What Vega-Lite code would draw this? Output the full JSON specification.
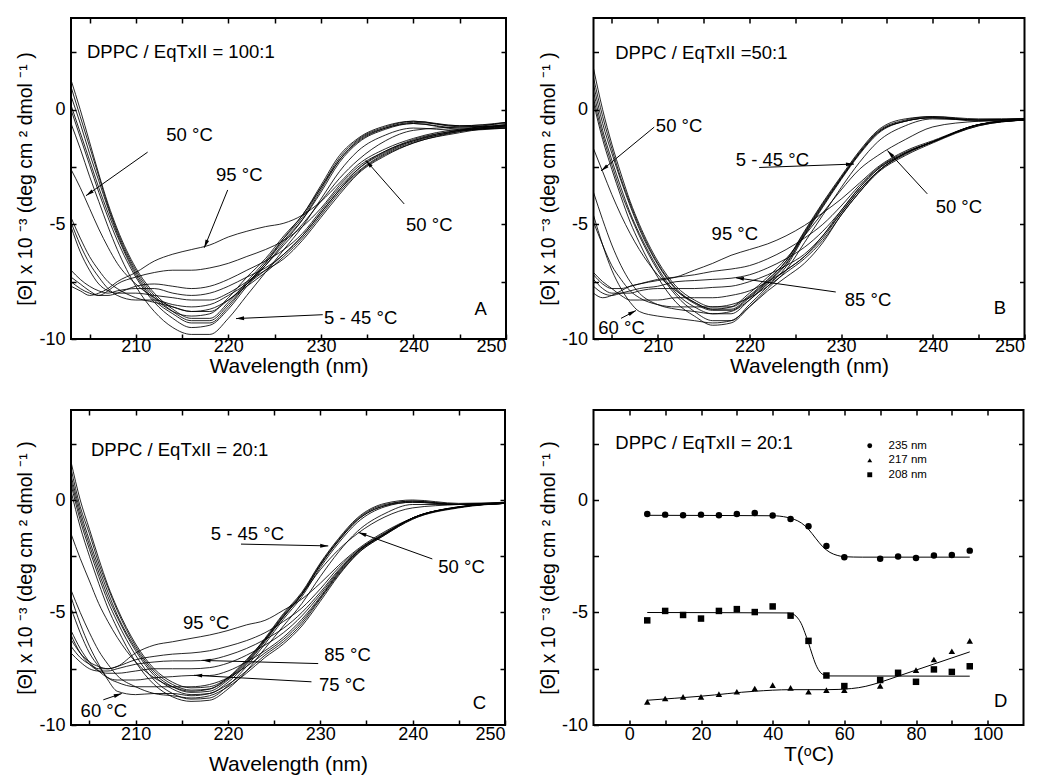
{
"$schema": "https://vega.github.io/schema/vega-lite/v6.json",
"background": "white",
"padding": {"left": 14, "top": 16, "right": 0, "bottom": 0},
"config": {
  "font": "Liberation Sans",
  "view": {"stroke": "black", "strokeWidth": 2},
  "axis": {"domain": false, "grid": false, "ticks": true, "tickColor": "black", "tickSize": -5, "tickWidth": 1.5,
           "labelFont": "Liberation Sans", "labelFontSize": 18, "labelColor": "black", "labelPadding": 3,
           "titleFont": "Liberation Sans", "titleFontWeight": "normal", "titleColor": "black"},
  "axisX": {"titleFontSize": 21, "titlePadding": 0},
  "axisY": {"titleFontSize": 19.5, "titlePadding": 3, "labelPadding": 11},
  "text": {"font": "Liberation Sans", "color": "black"}
},
"datasets": {
"A": [
{"t":5,"w":203,"v":1.3},{"t":5,"w":204,"v":0.0},{"t":5,"w":205,"v":-1.4},{"t":5,"w":206,"v":-2.8},{"t":5,"w":207,"v":-4.1},{"t":5,"w":208,"v":-5.2},{"t":5,"w":210,"v":-6.9},{"t":5,"w":212,"v":-8.0},{"t":5,"w":214,"v":-8.7},{"t":5,"w":216,"v":-9.1},{"t":5,"w":218,"v":-9.1},{"t":5,"w":220,"v":-8.4},{"t":5,"w":222,"v":-7.5},{"t":5,"w":224,"v":-6.6},{"t":5,"w":226,"v":-5.6},{"t":5,"w":228,"v":-4.7},{"t":5,"w":230,"v":-3.4},{"t":5,"w":232,"v":-2.1},{"t":5,"w":234,"v":-1.3},{"t":5,"w":237,"v":-0.75},{"t":5,"w":240,"v":-0.5},{"t":5,"w":245,"v":-0.7},{"t":5,"w":250,"v":-0.55},
{"t":15,"w":203,"v":1.0},{"t":15,"w":204,"v":-0.3},{"t":15,"w":205,"v":-1.6},{"t":15,"w":206,"v":-2.9},{"t":15,"w":207,"v":-4.2},{"t":15,"w":208,"v":-5.3},{"t":15,"w":210,"v":-7.0},{"t":15,"w":212,"v":-8.1},{"t":15,"w":214,"v":-8.8},{"t":15,"w":216,"v":-9.2},{"t":15,"w":218,"v":-9.2},{"t":15,"w":220,"v":-8.5},{"t":15,"w":222,"v":-7.6},{"t":15,"w":224,"v":-6.7},{"t":15,"w":226,"v":-5.6},{"t":15,"w":228,"v":-4.6},{"t":15,"w":230,"v":-3.4},{"t":15,"w":232,"v":-2.2},{"t":15,"w":234,"v":-1.35},{"t":15,"w":237,"v":-0.8},{"t":15,"w":240,"v":-0.6},{"t":15,"w":245,"v":-0.8},{"t":15,"w":250,"v":-0.65},
{"t":25,"w":203,"v":0.6},{"t":25,"w":204,"v":-0.6},{"t":25,"w":205,"v":-1.9},{"t":25,"w":206,"v":-3.1},{"t":25,"w":207,"v":-4.3},{"t":25,"w":208,"v":-5.4},{"t":25,"w":210,"v":-7.1},{"t":25,"w":212,"v":-8.2},{"t":25,"w":214,"v":-8.8},{"t":25,"w":216,"v":-9.0},{"t":25,"w":218,"v":-8.9},{"t":25,"w":220,"v":-8.2},{"t":25,"w":222,"v":-7.3},{"t":25,"w":224,"v":-6.5},{"t":25,"w":226,"v":-5.5},{"t":25,"w":228,"v":-4.6},{"t":25,"w":230,"v":-3.3},{"t":25,"w":232,"v":-2.0},{"t":25,"w":234,"v":-1.25},{"t":25,"w":237,"v":-0.7},{"t":25,"w":240,"v":-0.5},{"t":25,"w":245,"v":-0.75},{"t":25,"w":250,"v":-0.7},
{"t":35,"w":203,"v":0.2},{"t":35,"w":204,"v":-1.0},{"t":35,"w":205,"v":-2.2},{"t":35,"w":206,"v":-3.4},{"t":35,"w":207,"v":-4.5},{"t":35,"w":208,"v":-5.5},{"t":35,"w":210,"v":-7.2},{"t":35,"w":212,"v":-8.3},{"t":35,"w":214,"v":-8.9},{"t":35,"w":216,"v":-9.3},{"t":35,"w":218,"v":-9.3},{"t":35,"w":220,"v":-8.6},{"t":35,"w":222,"v":-7.6},{"t":35,"w":224,"v":-6.7},{"t":35,"w":226,"v":-5.7},{"t":35,"w":228,"v":-4.8},{"t":35,"w":230,"v":-3.6},{"t":35,"w":232,"v":-2.3},{"t":35,"w":234,"v":-1.45},{"t":35,"w":237,"v":-0.85},{"t":35,"w":240,"v":-0.6},{"t":35,"w":245,"v":-0.85},{"t":35,"w":250,"v":-0.8},
{"t":40,"w":203,"v":0.0},{"t":40,"w":204,"v":-1.2},{"t":40,"w":205,"v":-2.4},{"t":40,"w":206,"v":-3.6},{"t":40,"w":207,"v":-4.7},{"t":40,"w":208,"v":-5.7},{"t":40,"w":210,"v":-7.3},{"t":40,"w":212,"v":-8.4},{"t":40,"w":214,"v":-9.1},{"t":40,"w":216,"v":-9.5},{"t":40,"w":218,"v":-9.4},{"t":40,"w":220,"v":-8.7},{"t":40,"w":222,"v":-7.7},{"t":40,"w":224,"v":-6.8},{"t":40,"w":226,"v":-5.8},{"t":40,"w":228,"v":-4.8},{"t":40,"w":230,"v":-3.5},{"t":40,"w":232,"v":-2.2},{"t":40,"w":234,"v":-1.4},{"t":40,"w":237,"v":-0.8},{"t":40,"w":240,"v":-0.55},{"t":40,"w":245,"v":-0.7},{"t":40,"w":250,"v":-0.6},
{"t":45,"w":203,"v":-0.6},{"t":45,"w":204,"v":-1.7},{"t":45,"w":205,"v":-2.9},{"t":45,"w":206,"v":-4.0},{"t":45,"w":207,"v":-5.1},{"t":45,"w":208,"v":-6.1},{"t":45,"w":210,"v":-7.7},{"t":45,"w":212,"v":-8.8},{"t":45,"w":214,"v":-9.5},{"t":45,"w":216,"v":-9.8},{"t":45,"w":218,"v":-9.8},{"t":45,"w":220,"v":-9.1},{"t":45,"w":222,"v":-8.1},{"t":45,"w":224,"v":-7.1},{"t":45,"w":226,"v":-6.1},{"t":45,"w":228,"v":-5.1},{"t":45,"w":230,"v":-3.9},{"t":45,"w":232,"v":-2.7},{"t":45,"w":234,"v":-1.8},{"t":45,"w":237,"v":-1.1},{"t":45,"w":240,"v":-0.8},{"t":45,"w":245,"v":-0.9},{"t":45,"w":250,"v":-0.8},
{"t":50,"w":203,"v":-2.6},{"t":50,"w":204,"v":-3.4},{"t":50,"w":205,"v":-4.3},{"t":50,"w":206,"v":-5.2},{"t":50,"w":207,"v":-6.0},{"t":50,"w":208,"v":-6.7},{"t":50,"w":210,"v":-7.6},{"t":50,"w":212,"v":-8.2},{"t":50,"w":214,"v":-8.6},{"t":50,"w":216,"v":-8.8},{"t":50,"w":218,"v":-8.8},{"t":50,"w":220,"v":-8.3},{"t":50,"w":222,"v":-7.6},{"t":50,"w":224,"v":-6.8},{"t":50,"w":226,"v":-5.9},{"t":50,"w":228,"v":-5.0},{"t":50,"w":230,"v":-4.0},{"t":50,"w":232,"v":-3.0},{"t":50,"w":234,"v":-2.2},{"t":50,"w":237,"v":-1.35},{"t":50,"w":240,"v":-0.9},{"t":50,"w":245,"v":-0.75},{"t":50,"w":250,"v":-0.7},
{"t":55,"w":203,"v":-4.7},{"t":55,"w":204,"v":-5.6},{"t":55,"w":205,"v":-6.4},{"t":55,"w":206,"v":-7.0},{"t":55,"w":207,"v":-7.5},{"t":55,"w":208,"v":-7.8},{"t":55,"w":210,"v":-8.2},{"t":55,"w":212,"v":-8.4},{"t":55,"w":214,"v":-8.6},{"t":55,"w":216,"v":-8.8},{"t":55,"w":218,"v":-8.7},{"t":55,"w":220,"v":-8.3},{"t":55,"w":222,"v":-7.7},{"t":55,"w":224,"v":-7.1},{"t":55,"w":226,"v":-6.4},{"t":55,"w":228,"v":-5.6},{"t":55,"w":230,"v":-4.6},{"t":55,"w":232,"v":-3.6},{"t":55,"w":234,"v":-2.75},{"t":55,"w":237,"v":-1.95},{"t":55,"w":240,"v":-1.45},{"t":55,"w":245,"v":-0.95},{"t":55,"w":250,"v":-0.65},
{"t":60,"w":203,"v":-4.9},{"t":60,"w":204,"v":-5.9},{"t":60,"w":205,"v":-6.7},{"t":60,"w":206,"v":-7.3},{"t":60,"w":207,"v":-7.8},{"t":60,"w":208,"v":-8.1},{"t":60,"w":210,"v":-8.3},{"t":60,"w":212,"v":-8.3},{"t":60,"w":214,"v":-8.5},{"t":60,"w":216,"v":-8.6},{"t":60,"w":218,"v":-8.5},{"t":60,"w":220,"v":-8.1},{"t":60,"w":222,"v":-7.6},{"t":60,"w":224,"v":-7.0},{"t":60,"w":226,"v":-6.3},{"t":60,"w":228,"v":-5.5},{"t":60,"w":230,"v":-4.5},{"t":60,"w":232,"v":-3.5},{"t":60,"w":234,"v":-2.7},{"t":60,"w":237,"v":-1.9},{"t":60,"w":240,"v":-1.4},{"t":60,"w":245,"v":-0.9},{"t":60,"w":250,"v":-0.55},
{"t":65,"w":203,"v":-5.1},{"t":65,"w":204,"v":-6.2},{"t":65,"w":205,"v":-7.0},{"t":65,"w":206,"v":-7.6},{"t":65,"w":207,"v":-7.9},{"t":65,"w":208,"v":-8.0},{"t":65,"w":210,"v":-8.0},{"t":65,"w":212,"v":-8.1},{"t":65,"w":214,"v":-8.2},{"t":65,"w":216,"v":-8.3},{"t":65,"w":218,"v":-8.3},{"t":65,"w":220,"v":-8.0},{"t":65,"w":222,"v":-7.5},{"t":65,"w":224,"v":-7.0},{"t":65,"w":226,"v":-6.5},{"t":65,"w":228,"v":-5.7},{"t":65,"w":230,"v":-4.7},{"t":65,"w":232,"v":-3.7},{"t":65,"w":234,"v":-2.8},{"t":65,"w":237,"v":-2.0},{"t":65,"w":240,"v":-1.45},{"t":65,"w":245,"v":-1.0},{"t":65,"w":250,"v":-0.7},
{"t":70,"w":203,"v":-7.0},{"t":70,"w":204,"v":-7.4},{"t":70,"w":205,"v":-7.7},{"t":70,"w":206,"v":-7.9},{"t":70,"w":207,"v":-8.0},{"t":70,"w":208,"v":-7.9},{"t":70,"w":210,"v":-7.8},{"t":70,"w":212,"v":-7.8},{"t":70,"w":214,"v":-8.0},{"t":70,"w":216,"v":-8.1},{"t":70,"w":218,"v":-8.0},{"t":70,"w":220,"v":-7.7},{"t":70,"w":222,"v":-7.3},{"t":70,"w":224,"v":-6.9},{"t":70,"w":226,"v":-6.3},{"t":70,"w":228,"v":-5.5},{"t":70,"w":230,"v":-4.5},{"t":70,"w":232,"v":-3.5},{"t":70,"w":234,"v":-2.6},{"t":70,"w":237,"v":-1.8},{"t":70,"w":240,"v":-1.35},{"t":70,"w":245,"v":-0.95},{"t":70,"w":250,"v":-0.75},
{"t":80,"w":203,"v":-7.3},{"t":80,"w":204,"v":-7.6},{"t":80,"w":205,"v":-7.9},{"t":80,"w":206,"v":-8.1},{"t":80,"w":207,"v":-8.1},{"t":80,"w":208,"v":-8.0},{"t":80,"w":210,"v":-7.7},{"t":80,"w":212,"v":-7.6},{"t":80,"w":214,"v":-7.7},{"t":80,"w":216,"v":-7.8},{"t":80,"w":218,"v":-7.7},{"t":80,"w":220,"v":-7.4},{"t":80,"w":222,"v":-7.0},{"t":80,"w":224,"v":-6.6},{"t":80,"w":226,"v":-6.1},{"t":80,"w":228,"v":-5.4},{"t":80,"w":230,"v":-4.4},{"t":80,"w":232,"v":-3.4},{"t":80,"w":234,"v":-2.6},{"t":80,"w":237,"v":-1.85},{"t":80,"w":240,"v":-1.35},{"t":80,"w":245,"v":-0.9},{"t":80,"w":250,"v":-0.8},
{"t":90,"w":203,"v":-7.5},{"t":90,"w":204,"v":-7.8},{"t":90,"w":205,"v":-8.0},{"t":90,"w":206,"v":-8.1},{"t":90,"w":207,"v":-7.9},{"t":90,"w":208,"v":-7.6},{"t":90,"w":210,"v":-7.3},{"t":90,"w":212,"v":-7.1},{"t":90,"w":214,"v":-7.0},{"t":90,"w":216,"v":-7.0},{"t":90,"w":218,"v":-6.9},{"t":90,"w":220,"v":-6.7},{"t":90,"w":222,"v":-6.4},{"t":90,"w":224,"v":-6.1},{"t":90,"w":226,"v":-5.7},{"t":90,"w":228,"v":-5.1},{"t":90,"w":230,"v":-4.3},{"t":90,"w":232,"v":-3.3},{"t":90,"w":234,"v":-2.5},{"t":90,"w":237,"v":-1.8},{"t":90,"w":240,"v":-1.3},{"t":90,"w":245,"v":-0.9},{"t":90,"w":250,"v":-0.7},
{"t":95,"w":203,"v":-7.7},{"t":95,"w":204,"v":-7.9},{"t":95,"w":205,"v":-8.1},{"t":95,"w":206,"v":-8.0},{"t":95,"w":207,"v":-7.8},{"t":95,"w":208,"v":-7.5},{"t":95,"w":210,"v":-7.1},{"t":95,"w":212,"v":-6.6},{"t":95,"w":214,"v":-6.3},{"t":95,"w":216,"v":-6.1},{"t":95,"w":218,"v":-5.9},{"t":95,"w":220,"v":-5.55},{"t":95,"w":222,"v":-5.3},{"t":95,"w":224,"v":-5.1},{"t":95,"w":226,"v":-4.95},{"t":95,"w":228,"v":-4.6},{"t":95,"w":230,"v":-4.0},{"t":95,"w":232,"v":-3.2},{"t":95,"w":234,"v":-2.4},{"t":95,"w":237,"v":-1.7},{"t":95,"w":240,"v":-1.25},{"t":95,"w":245,"v":-0.85},{"t":95,"w":250,"v":-0.75}
],
"B": [
{"t":5,"w":203,"v":1.8},{"t":5,"w":204,"v":0.0},{"t":5,"w":205,"v":-1.5},{"t":5,"w":206,"v":-2.8},{"t":5,"w":207,"v":-4.0},{"t":5,"w":208,"v":-5.0},{"t":5,"w":210,"v":-6.6},{"t":5,"w":212,"v":-7.7},{"t":5,"w":214,"v":-8.3},{"t":5,"w":216,"v":-8.6},{"t":5,"w":218,"v":-8.6},{"t":5,"w":220,"v":-8.1},{"t":5,"w":222,"v":-7.4},{"t":5,"w":224,"v":-6.6},{"t":5,"w":226,"v":-5.3},{"t":5,"w":228,"v":-4.05},{"t":5,"w":230,"v":-2.9},{"t":5,"w":232,"v":-1.8},{"t":5,"w":234,"v":-0.9},{"t":5,"w":237,"v":-0.4},{"t":5,"w":240,"v":-0.3},{"t":5,"w":245,"v":-0.4},{"t":5,"w":250,"v":-0.38},
{"t":15,"w":203,"v":1.4},{"t":15,"w":204,"v":-0.3},{"t":15,"w":205,"v":-1.7},{"t":15,"w":206,"v":-3.0},{"t":15,"w":207,"v":-4.1},{"t":15,"w":208,"v":-5.1},{"t":15,"w":210,"v":-6.7},{"t":15,"w":212,"v":-7.8},{"t":15,"w":214,"v":-8.4},{"t":15,"w":216,"v":-8.7},{"t":15,"w":218,"v":-8.7},{"t":15,"w":220,"v":-8.15},{"t":15,"w":222,"v":-7.45},{"t":15,"w":224,"v":-6.6},{"t":15,"w":226,"v":-5.35},{"t":15,"w":228,"v":-4.1},{"t":15,"w":230,"v":-2.95},{"t":15,"w":232,"v":-1.85},{"t":15,"w":234,"v":-0.95},{"t":15,"w":237,"v":-0.45},{"t":15,"w":240,"v":-0.3},{"t":15,"w":245,"v":-0.45},{"t":15,"w":250,"v":-0.42},
{"t":25,"w":203,"v":1.1},{"t":25,"w":204,"v":-0.6},{"t":25,"w":205,"v":-1.9},{"t":25,"w":206,"v":-3.1},{"t":25,"w":207,"v":-4.2},{"t":25,"w":208,"v":-5.2},{"t":25,"w":210,"v":-6.75},{"t":25,"w":212,"v":-7.85},{"t":25,"w":214,"v":-8.45},{"t":25,"w":216,"v":-8.75},{"t":25,"w":218,"v":-8.75},{"t":25,"w":220,"v":-8.2},{"t":25,"w":222,"v":-7.5},{"t":25,"w":224,"v":-6.7},{"t":25,"w":226,"v":-5.4},{"t":25,"w":228,"v":-4.15},{"t":25,"w":230,"v":-3.0},{"t":25,"w":232,"v":-1.9},{"t":25,"w":234,"v":-1.0},{"t":25,"w":237,"v":-0.5},{"t":25,"w":240,"v":-0.35},{"t":25,"w":245,"v":-0.45},{"t":25,"w":250,"v":-0.4},
{"t":35,"w":203,"v":0.8},{"t":35,"w":204,"v":-0.9},{"t":35,"w":205,"v":-2.2},{"t":35,"w":206,"v":-3.4},{"t":35,"w":207,"v":-4.5},{"t":35,"w":208,"v":-5.4},{"t":35,"w":210,"v":-6.9},{"t":35,"w":212,"v":-8.0},{"t":35,"w":214,"v":-8.6},{"t":35,"w":216,"v":-8.9},{"t":35,"w":218,"v":-8.9},{"t":35,"w":220,"v":-8.3},{"t":35,"w":222,"v":-7.55},{"t":35,"w":224,"v":-6.75},{"t":35,"w":226,"v":-5.45},{"t":35,"w":228,"v":-4.2},{"t":35,"w":230,"v":-3.0},{"t":35,"w":232,"v":-1.9},{"t":35,"w":234,"v":-1.0},{"t":35,"w":237,"v":-0.5},{"t":35,"w":240,"v":-0.35},{"t":35,"w":245,"v":-0.5},{"t":35,"w":250,"v":-0.45},
{"t":40,"w":203,"v":0.5},{"t":40,"w":204,"v":-1.1},{"t":40,"w":205,"v":-2.4},{"t":40,"w":206,"v":-3.6},{"t":40,"w":207,"v":-4.6},{"t":40,"w":208,"v":-5.5},{"t":40,"w":210,"v":-7.0},{"t":40,"w":212,"v":-8.1},{"t":40,"w":214,"v":-8.8},{"t":40,"w":216,"v":-9.2},{"t":40,"w":218,"v":-9.2},{"t":40,"w":220,"v":-8.5},{"t":40,"w":222,"v":-7.7},{"t":40,"w":224,"v":-6.85},{"t":40,"w":226,"v":-5.5},{"t":40,"w":228,"v":-4.25},{"t":40,"w":230,"v":-3.05},{"t":40,"w":232,"v":-1.95},{"t":40,"w":234,"v":-1.05},{"t":40,"w":237,"v":-0.5},{"t":40,"w":240,"v":-0.35},{"t":40,"w":245,"v":-0.45},{"t":40,"w":250,"v":-0.4},
{"t":45,"w":203,"v":0.3},{"t":45,"w":204,"v":-1.3},{"t":45,"w":205,"v":-2.6},{"t":45,"w":206,"v":-3.8},{"t":45,"w":207,"v":-4.9},{"t":45,"w":208,"v":-5.8},{"t":45,"w":210,"v":-7.3},{"t":45,"w":212,"v":-8.4},{"t":45,"w":214,"v":-9.0},{"t":45,"w":216,"v":-9.4},{"t":45,"w":218,"v":-9.3},{"t":45,"w":220,"v":-8.6},{"t":45,"w":222,"v":-7.8},{"t":45,"w":224,"v":-7.0},{"t":45,"w":226,"v":-5.8},{"t":45,"w":228,"v":-4.6},{"t":45,"w":230,"v":-3.4},{"t":45,"w":232,"v":-2.3},{"t":45,"w":234,"v":-1.4},{"t":45,"w":237,"v":-0.7},{"t":45,"w":240,"v":-0.4},{"t":45,"w":245,"v":-0.45},{"t":45,"w":250,"v":-0.4},
{"t":50,"w":203,"v":-1.7},{"t":50,"w":204,"v":-2.7},{"t":50,"w":205,"v":-3.7},{"t":50,"w":206,"v":-4.6},{"t":50,"w":207,"v":-5.4},{"t":50,"w":208,"v":-6.1},{"t":50,"w":210,"v":-7.2},{"t":50,"w":212,"v":-7.9},{"t":50,"w":214,"v":-8.4},{"t":50,"w":216,"v":-8.7},{"t":50,"w":218,"v":-8.6},{"t":50,"w":220,"v":-8.0},{"t":50,"w":222,"v":-7.3},{"t":50,"w":224,"v":-6.5},{"t":50,"w":226,"v":-5.5},{"t":50,"w":228,"v":-4.5},{"t":50,"w":230,"v":-3.5},{"t":50,"w":232,"v":-2.6},{"t":50,"w":234,"v":-2.0},{"t":50,"w":237,"v":-1.3},{"t":50,"w":240,"v":-0.75},{"t":50,"w":245,"v":-0.5},{"t":50,"w":250,"v":-0.42},
{"t":55,"w":203,"v":-3.6},{"t":55,"w":204,"v":-4.8},{"t":55,"w":205,"v":-5.9},{"t":55,"w":206,"v":-6.8},{"t":55,"w":207,"v":-7.5},{"t":55,"w":208,"v":-8.0},{"t":55,"w":210,"v":-8.5},{"t":55,"w":212,"v":-8.7},{"t":55,"w":214,"v":-8.8},{"t":55,"w":216,"v":-8.9},{"t":55,"w":218,"v":-8.8},{"t":55,"w":220,"v":-8.3},{"t":55,"w":222,"v":-7.6},{"t":55,"w":224,"v":-7.0},{"t":55,"w":226,"v":-6.4},{"t":55,"w":228,"v":-5.5},{"t":55,"w":230,"v":-4.4},{"t":55,"w":232,"v":-3.4},{"t":55,"w":234,"v":-2.6},{"t":55,"w":237,"v":-1.9},{"t":55,"w":240,"v":-1.4},{"t":55,"w":245,"v":-0.65},{"t":55,"w":250,"v":-0.42},
{"t":60,"w":203,"v":-4.6},{"t":60,"w":204,"v":-5.9},{"t":60,"w":205,"v":-7.0},{"t":60,"w":206,"v":-7.8},{"t":60,"w":207,"v":-8.4},{"t":60,"w":208,"v":-8.8},{"t":60,"w":210,"v":-9.0},{"t":60,"w":212,"v":-9.1},{"t":60,"w":214,"v":-9.2},{"t":60,"w":216,"v":-9.3},{"t":60,"w":218,"v":-9.2},{"t":60,"w":220,"v":-8.6},{"t":60,"w":222,"v":-7.9},{"t":60,"w":224,"v":-7.3},{"t":60,"w":226,"v":-6.7},{"t":60,"w":228,"v":-5.8},{"t":60,"w":230,"v":-4.6},{"t":60,"w":232,"v":-3.6},{"t":60,"w":234,"v":-2.75},{"t":60,"w":237,"v":-2.0},{"t":60,"w":240,"v":-1.45},{"t":60,"w":245,"v":-0.7},{"t":60,"w":250,"v":-0.45},
{"t":65,"w":203,"v":-4.9},{"t":65,"w":204,"v":-5.9},{"t":65,"w":205,"v":-6.8},{"t":65,"w":206,"v":-7.4},{"t":65,"w":207,"v":-7.9},{"t":65,"w":208,"v":-8.2},{"t":65,"w":210,"v":-8.5},{"t":65,"w":212,"v":-8.6},{"t":65,"w":214,"v":-8.6},{"t":65,"w":216,"v":-8.6},{"t":65,"w":218,"v":-8.5},{"t":65,"w":220,"v":-8.2},{"t":65,"w":222,"v":-7.7},{"t":65,"w":224,"v":-7.1},{"t":65,"w":226,"v":-6.5},{"t":65,"w":228,"v":-5.7},{"t":65,"w":230,"v":-4.6},{"t":65,"w":232,"v":-3.6},{"t":65,"w":234,"v":-2.7},{"t":65,"w":237,"v":-1.95},{"t":65,"w":240,"v":-1.4},{"t":65,"w":245,"v":-0.7},{"t":65,"w":250,"v":-0.45},
{"t":70,"w":203,"v":-7.1},{"t":70,"w":204,"v":-7.5},{"t":70,"w":205,"v":-7.8},{"t":70,"w":206,"v":-8.1},{"t":70,"w":207,"v":-8.3},{"t":70,"w":208,"v":-8.3},{"t":70,"w":210,"v":-8.3},{"t":70,"w":212,"v":-8.2},{"t":70,"w":214,"v":-8.2},{"t":70,"w":216,"v":-8.2},{"t":70,"w":218,"v":-8.1},{"t":70,"w":220,"v":-7.9},{"t":70,"w":222,"v":-7.5},{"t":70,"w":224,"v":-7.0},{"t":70,"w":226,"v":-6.4},{"t":70,"w":228,"v":-5.6},{"t":70,"w":230,"v":-4.5},{"t":70,"w":232,"v":-3.5},{"t":70,"w":234,"v":-2.7},{"t":70,"w":237,"v":-1.9},{"t":70,"w":240,"v":-1.4},{"t":70,"w":245,"v":-0.65},{"t":70,"w":250,"v":-0.4},
{"t":80,"w":203,"v":-7.4},{"t":80,"w":204,"v":-7.8},{"t":80,"w":205,"v":-8.0},{"t":80,"w":206,"v":-8.0},{"t":80,"w":207,"v":-8.0},{"t":80,"w":208,"v":-7.9},{"t":80,"w":210,"v":-7.8},{"t":80,"w":212,"v":-7.8},{"t":80,"w":214,"v":-7.8},{"t":80,"w":216,"v":-7.75},{"t":80,"w":218,"v":-7.7},{"t":80,"w":220,"v":-7.5},{"t":80,"w":222,"v":-7.2},{"t":80,"w":224,"v":-6.8},{"t":80,"w":226,"v":-6.3},{"t":80,"w":228,"v":-5.5},{"t":80,"w":230,"v":-4.5},{"t":80,"w":232,"v":-3.5},{"t":80,"w":234,"v":-2.7},{"t":80,"w":237,"v":-1.9},{"t":80,"w":240,"v":-1.4},{"t":80,"w":245,"v":-0.65},{"t":80,"w":250,"v":-0.45},
{"t":85,"w":203,"v":-7.7},{"t":85,"w":204,"v":-8.0},{"t":85,"w":205,"v":-8.1},{"t":85,"w":206,"v":-8.0},{"t":85,"w":207,"v":-7.9},{"t":85,"w":208,"v":-7.8},{"t":85,"w":210,"v":-7.7},{"t":85,"w":212,"v":-7.5},{"t":85,"w":214,"v":-7.45},{"t":85,"w":216,"v":-7.4},{"t":85,"w":218,"v":-7.35},{"t":85,"w":220,"v":-7.2},{"t":85,"w":222,"v":-6.9},{"t":85,"w":224,"v":-6.5},{"t":85,"w":226,"v":-6.0},{"t":85,"w":228,"v":-5.3},{"t":85,"w":230,"v":-4.4},{"t":85,"w":232,"v":-3.4},{"t":85,"w":234,"v":-2.6},{"t":85,"w":237,"v":-1.9},{"t":85,"w":240,"v":-1.4},{"t":85,"w":245,"v":-0.65},{"t":85,"w":250,"v":-0.45},
{"t":90,"w":203,"v":-8.0},{"t":90,"w":204,"v":-8.2},{"t":90,"w":205,"v":-8.1},{"t":90,"w":206,"v":-7.9},{"t":90,"w":207,"v":-7.7},{"t":90,"w":208,"v":-7.6},{"t":90,"w":210,"v":-7.4},{"t":90,"w":212,"v":-7.3},{"t":90,"w":214,"v":-7.2},{"t":90,"w":216,"v":-7.05},{"t":90,"w":218,"v":-6.95},{"t":90,"w":220,"v":-6.8},{"t":90,"w":222,"v":-6.5},{"t":90,"w":224,"v":-6.1},{"t":90,"w":226,"v":-5.6},{"t":90,"w":228,"v":-5.0},{"t":90,"w":230,"v":-4.2},{"t":90,"w":232,"v":-3.3},{"t":90,"w":234,"v":-2.55},{"t":90,"w":237,"v":-1.85},{"t":90,"w":240,"v":-1.4},{"t":90,"w":245,"v":-0.65},{"t":90,"w":250,"v":-0.45},
{"t":95,"w":203,"v":-7.2},{"t":95,"w":204,"v":-7.6},{"t":95,"w":205,"v":-7.8},{"t":95,"w":206,"v":-7.8},{"t":95,"w":207,"v":-7.7},{"t":95,"w":208,"v":-7.6},{"t":95,"w":210,"v":-7.45},{"t":95,"w":212,"v":-7.3},{"t":95,"w":214,"v":-7.0},{"t":95,"w":216,"v":-6.7},{"t":95,"w":218,"v":-6.35},{"t":95,"w":220,"v":-6.1},{"t":95,"w":222,"v":-5.85},{"t":95,"w":224,"v":-5.5},{"t":95,"w":226,"v":-5.05},{"t":95,"w":228,"v":-4.5},{"t":95,"w":230,"v":-3.9},{"t":95,"w":232,"v":-3.2},{"t":95,"w":234,"v":-2.5},{"t":95,"w":237,"v":-1.8},{"t":95,"w":240,"v":-1.35},{"t":95,"w":245,"v":-0.65},{"t":95,"w":250,"v":-0.45}
],
"C": [
{"t":5,"w":203,"v":1.7},{"t":5,"w":204,"v":0.0},{"t":5,"w":205,"v":-1.3},{"t":5,"w":206,"v":-2.6},{"t":5,"w":207,"v":-3.8},{"t":5,"w":208,"v":-4.8},{"t":5,"w":210,"v":-6.4},{"t":5,"w":212,"v":-7.5},{"t":5,"w":214,"v":-8.1},{"t":5,"w":216,"v":-8.35},{"t":5,"w":218,"v":-8.3},{"t":5,"w":220,"v":-7.9},{"t":5,"w":222,"v":-7.15},{"t":5,"w":224,"v":-6.15},{"t":5,"w":226,"v":-5.05},{"t":5,"w":228,"v":-4.1},{"t":5,"w":230,"v":-2.8},{"t":5,"w":232,"v":-1.7},{"t":5,"w":234,"v":-0.8},{"t":5,"w":237,"v":-0.15},{"t":5,"w":240,"v":0.0},{"t":5,"w":245,"v":-0.15},{"t":5,"w":250,"v":-0.1},
{"t":15,"w":203,"v":1.4},{"t":15,"w":204,"v":-0.3},{"t":15,"w":205,"v":-1.5},{"t":15,"w":206,"v":-2.8},{"t":15,"w":207,"v":-3.9},{"t":15,"w":208,"v":-4.9},{"t":15,"w":210,"v":-6.5},{"t":15,"w":212,"v":-7.6},{"t":15,"w":214,"v":-8.2},{"t":15,"w":216,"v":-8.45},{"t":15,"w":218,"v":-8.4},{"t":15,"w":220,"v":-7.95},{"t":15,"w":222,"v":-7.2},{"t":15,"w":224,"v":-6.2},{"t":15,"w":226,"v":-5.1},{"t":15,"w":228,"v":-4.15},{"t":15,"w":230,"v":-2.85},{"t":15,"w":232,"v":-1.75},{"t":15,"w":234,"v":-0.85},{"t":15,"w":237,"v":-0.2},{"t":15,"w":240,"v":-0.05},{"t":15,"w":245,"v":-0.18},{"t":15,"w":250,"v":-0.12},
{"t":25,"w":203,"v":1.1},{"t":25,"w":204,"v":-0.5},{"t":25,"w":205,"v":-1.8},{"t":25,"w":206,"v":-3.0},{"t":25,"w":207,"v":-4.1},{"t":25,"w":208,"v":-5.1},{"t":25,"w":210,"v":-6.6},{"t":25,"w":212,"v":-7.7},{"t":25,"w":214,"v":-8.3},{"t":25,"w":216,"v":-8.55},{"t":25,"w":218,"v":-8.5},{"t":25,"w":220,"v":-8.0},{"t":25,"w":222,"v":-7.25},{"t":25,"w":224,"v":-6.25},{"t":25,"w":226,"v":-5.15},{"t":25,"w":228,"v":-4.2},{"t":25,"w":230,"v":-2.9},{"t":25,"w":232,"v":-1.8},{"t":25,"w":234,"v":-0.9},{"t":25,"w":237,"v":-0.25},{"t":25,"w":240,"v":-0.05},{"t":25,"w":245,"v":-0.2},{"t":25,"w":250,"v":-0.15},
{"t":35,"w":203,"v":0.9},{"t":35,"w":204,"v":-0.7},{"t":35,"w":205,"v":-2.0},{"t":35,"w":206,"v":-3.2},{"t":35,"w":207,"v":-4.3},{"t":35,"w":208,"v":-5.2},{"t":35,"w":210,"v":-6.7},{"t":35,"w":212,"v":-7.8},{"t":35,"w":214,"v":-8.4},{"t":35,"w":216,"v":-8.65},{"t":35,"w":218,"v":-8.6},{"t":35,"w":220,"v":-8.1},{"t":35,"w":222,"v":-7.3},{"t":35,"w":224,"v":-6.3},{"t":35,"w":226,"v":-5.2},{"t":35,"w":228,"v":-4.2},{"t":35,"w":230,"v":-2.9},{"t":35,"w":232,"v":-1.8},{"t":35,"w":234,"v":-0.9},{"t":35,"w":237,"v":-0.25},{"t":35,"w":240,"v":-0.1},{"t":35,"w":245,"v":-0.2},{"t":35,"w":250,"v":-0.12},
{"t":40,"w":203,"v":0.7},{"t":40,"w":204,"v":-0.9},{"t":40,"w":205,"v":-2.2},{"t":40,"w":206,"v":-3.4},{"t":40,"w":207,"v":-4.5},{"t":40,"w":208,"v":-5.4},{"t":40,"w":210,"v":-6.9},{"t":40,"w":212,"v":-8.0},{"t":40,"w":214,"v":-8.6},{"t":40,"w":216,"v":-8.85},{"t":40,"w":218,"v":-8.8},{"t":40,"w":220,"v":-8.25},{"t":40,"w":222,"v":-7.4},{"t":40,"w":224,"v":-6.4},{"t":40,"w":226,"v":-5.3},{"t":40,"w":228,"v":-4.3},{"t":40,"w":230,"v":-3.0},{"t":40,"w":232,"v":-1.9},{"t":40,"w":234,"v":-1.0},{"t":40,"w":237,"v":-0.3},{"t":40,"w":240,"v":-0.1},{"t":40,"w":245,"v":-0.2},{"t":40,"w":250,"v":-0.15},
{"t":45,"w":203,"v":0.4},{"t":45,"w":204,"v":-1.2},{"t":45,"w":205,"v":-2.5},{"t":45,"w":206,"v":-3.7},{"t":45,"w":207,"v":-4.8},{"t":45,"w":208,"v":-5.7},{"t":45,"w":210,"v":-7.2},{"t":45,"w":212,"v":-8.2},{"t":45,"w":214,"v":-8.75},{"t":45,"w":216,"v":-8.95},{"t":45,"w":218,"v":-8.9},{"t":45,"w":220,"v":-8.4},{"t":45,"w":222,"v":-7.6},{"t":45,"w":224,"v":-6.6},{"t":45,"w":226,"v":-5.6},{"t":45,"w":228,"v":-4.6},{"t":45,"w":230,"v":-3.4},{"t":45,"w":232,"v":-2.3},{"t":45,"w":234,"v":-1.4},{"t":45,"w":237,"v":-0.6},{"t":45,"w":240,"v":-0.2},{"t":45,"w":245,"v":-0.2},{"t":45,"w":250,"v":-0.12},
{"t":50,"w":203,"v":-1.5},{"t":50,"w":204,"v":-2.6},{"t":50,"w":205,"v":-3.6},{"t":50,"w":206,"v":-4.6},{"t":50,"w":207,"v":-5.4},{"t":50,"w":208,"v":-6.1},{"t":50,"w":210,"v":-7.2},{"t":50,"w":212,"v":-7.9},{"t":50,"w":214,"v":-8.3},{"t":50,"w":216,"v":-8.5},{"t":50,"w":218,"v":-8.4},{"t":50,"w":220,"v":-7.9},{"t":50,"w":222,"v":-7.1},{"t":50,"w":224,"v":-6.2},{"t":50,"w":226,"v":-5.2},{"t":50,"w":228,"v":-4.2},{"t":50,"w":230,"v":-3.1},{"t":50,"w":232,"v":-2.2},{"t":50,"w":234,"v":-1.5},{"t":50,"w":237,"v":-0.75},{"t":50,"w":240,"v":-0.35},{"t":50,"w":245,"v":-0.2},{"t":50,"w":250,"v":-0.12},
{"t":55,"w":203,"v":-4.0},{"t":55,"w":204,"v":-5.0},{"t":55,"w":205,"v":-5.9},{"t":55,"w":206,"v":-6.7},{"t":55,"w":207,"v":-7.3},{"t":55,"w":208,"v":-7.8},{"t":55,"w":210,"v":-8.3},{"t":55,"w":212,"v":-8.6},{"t":55,"w":214,"v":-8.7},{"t":55,"w":216,"v":-8.8},{"t":55,"w":218,"v":-8.7},{"t":55,"w":220,"v":-8.3},{"t":55,"w":222,"v":-7.7},{"t":55,"w":224,"v":-7.0},{"t":55,"w":226,"v":-6.4},{"t":55,"w":228,"v":-5.6},{"t":55,"w":230,"v":-4.5},{"t":55,"w":232,"v":-3.35},{"t":55,"w":234,"v":-2.4},{"t":55,"w":237,"v":-1.55},{"t":55,"w":240,"v":-0.85},{"t":55,"w":245,"v":-0.35},{"t":55,"w":250,"v":-0.15},
{"t":60,"w":203,"v":-4.3},{"t":60,"w":204,"v":-5.5},{"t":60,"w":205,"v":-6.5},{"t":60,"w":206,"v":-7.3},{"t":60,"w":207,"v":-8.0},{"t":60,"w":208,"v":-8.5},{"t":60,"w":210,"v":-8.65},{"t":60,"w":212,"v":-8.6},{"t":60,"w":214,"v":-8.6},{"t":60,"w":216,"v":-8.7},{"t":60,"w":218,"v":-8.6},{"t":60,"w":220,"v":-8.2},{"t":60,"w":222,"v":-7.6},{"t":60,"w":224,"v":-6.9},{"t":60,"w":226,"v":-6.3},{"t":60,"w":228,"v":-5.5},{"t":60,"w":230,"v":-4.4},{"t":60,"w":232,"v":-3.3},{"t":60,"w":234,"v":-2.4},{"t":60,"w":237,"v":-1.55},{"t":60,"w":240,"v":-0.85},{"t":60,"w":245,"v":-0.32},{"t":60,"w":250,"v":-0.15},
{"t":70,"w":203,"v":-4.8},{"t":70,"w":204,"v":-5.9},{"t":70,"w":205,"v":-6.8},{"t":70,"w":206,"v":-7.4},{"t":70,"w":207,"v":-7.9},{"t":70,"w":208,"v":-8.1},{"t":70,"w":210,"v":-8.3},{"t":70,"w":212,"v":-8.3},{"t":70,"w":214,"v":-8.3},{"t":70,"w":216,"v":-8.3},{"t":70,"w":218,"v":-8.2},{"t":70,"w":220,"v":-7.9},{"t":70,"w":222,"v":-7.4},{"t":70,"w":224,"v":-6.8},{"t":70,"w":226,"v":-6.2},{"t":70,"w":228,"v":-5.4},{"t":70,"w":230,"v":-4.35},{"t":70,"w":232,"v":-3.25},{"t":70,"w":234,"v":-2.35},{"t":70,"w":237,"v":-1.5},{"t":70,"w":240,"v":-0.8},{"t":70,"w":245,"v":-0.32},{"t":70,"w":250,"v":-0.15},
{"t":75,"w":203,"v":-5.8},{"t":75,"w":204,"v":-6.6},{"t":75,"w":205,"v":-7.2},{"t":75,"w":206,"v":-7.6},{"t":75,"w":207,"v":-7.9},{"t":75,"w":208,"v":-8.0},{"t":75,"w":210,"v":-8.0},{"t":75,"w":212,"v":-7.9},{"t":75,"w":214,"v":-7.85},{"t":75,"w":216,"v":-7.8},{"t":75,"w":218,"v":-7.8},{"t":75,"w":220,"v":-7.6},{"t":75,"w":222,"v":-7.2},{"t":75,"w":224,"v":-6.7},{"t":75,"w":226,"v":-6.1},{"t":75,"w":228,"v":-5.3},{"t":75,"w":230,"v":-4.3},{"t":75,"w":232,"v":-3.2},{"t":75,"w":234,"v":-2.3},{"t":75,"w":237,"v":-1.5},{"t":75,"w":240,"v":-0.8},{"t":75,"w":245,"v":-0.32},{"t":75,"w":250,"v":-0.15},
{"t":80,"w":203,"v":-6.0},{"t":80,"w":204,"v":-6.8},{"t":80,"w":205,"v":-7.3},{"t":80,"w":206,"v":-7.6},{"t":80,"w":207,"v":-7.7},{"t":80,"w":208,"v":-7.7},{"t":80,"w":210,"v":-7.6},{"t":80,"w":212,"v":-7.5},{"t":80,"w":214,"v":-7.5},{"t":80,"w":216,"v":-7.5},{"t":80,"w":218,"v":-7.45},{"t":80,"w":220,"v":-7.25},{"t":80,"w":222,"v":-6.9},{"t":80,"w":224,"v":-6.45},{"t":80,"w":226,"v":-5.9},{"t":80,"w":228,"v":-5.15},{"t":80,"w":230,"v":-4.2},{"t":80,"w":232,"v":-3.15},{"t":80,"w":234,"v":-2.3},{"t":80,"w":237,"v":-1.5},{"t":80,"w":240,"v":-0.8},{"t":80,"w":245,"v":-0.32},{"t":80,"w":250,"v":-0.15},
{"t":85,"w":203,"v":-6.8},{"t":85,"w":204,"v":-7.2},{"t":85,"w":205,"v":-7.5},{"t":85,"w":206,"v":-7.6},{"t":85,"w":207,"v":-7.6},{"t":85,"w":208,"v":-7.5},{"t":85,"w":210,"v":-7.3},{"t":85,"w":212,"v":-7.2},{"t":85,"w":214,"v":-7.15},{"t":85,"w":216,"v":-7.15},{"t":85,"w":218,"v":-7.1},{"t":85,"w":220,"v":-6.9},{"t":85,"w":222,"v":-6.6},{"t":85,"w":224,"v":-6.2},{"t":85,"w":226,"v":-5.7},{"t":85,"w":228,"v":-5.0},{"t":85,"w":230,"v":-4.1},{"t":85,"w":232,"v":-3.1},{"t":85,"w":234,"v":-2.3},{"t":85,"w":237,"v":-1.5},{"t":85,"w":240,"v":-0.8},{"t":85,"w":245,"v":-0.32},{"t":85,"w":250,"v":-0.15},
{"t":90,"w":203,"v":-6.2},{"t":90,"w":204,"v":-6.8},{"t":90,"w":205,"v":-7.2},{"t":90,"w":206,"v":-7.4},{"t":90,"w":207,"v":-7.5},{"t":90,"w":208,"v":-7.4},{"t":90,"w":210,"v":-7.1},{"t":90,"w":212,"v":-6.95},{"t":90,"w":214,"v":-6.85},{"t":90,"w":216,"v":-6.8},{"t":90,"w":218,"v":-6.7},{"t":90,"w":220,"v":-6.5},{"t":90,"w":222,"v":-6.25},{"t":90,"w":224,"v":-5.9},{"t":90,"w":226,"v":-5.4},{"t":90,"w":228,"v":-4.8},{"t":90,"w":230,"v":-3.95},{"t":90,"w":232,"v":-3.0},{"t":90,"w":234,"v":-2.25},{"t":90,"w":237,"v":-1.45},{"t":90,"w":240,"v":-0.8},{"t":90,"w":245,"v":-0.3},{"t":90,"w":250,"v":-0.15},
{"t":95,"w":203,"v":-6.5},{"t":95,"w":204,"v":-7.0},{"t":95,"w":205,"v":-7.3},{"t":95,"w":206,"v":-7.5},{"t":95,"w":207,"v":-7.5},{"t":95,"w":208,"v":-7.4},{"t":95,"w":210,"v":-6.8},{"t":95,"w":212,"v":-6.45},{"t":95,"w":214,"v":-6.3},{"t":95,"w":216,"v":-6.15},{"t":95,"w":218,"v":-6.0},{"t":95,"w":220,"v":-5.8},{"t":95,"w":222,"v":-5.55},{"t":95,"w":224,"v":-5.35},{"t":95,"w":226,"v":-4.9},{"t":95,"w":228,"v":-4.4},{"t":95,"w":230,"v":-3.7},{"t":95,"w":232,"v":-2.9},{"t":95,"w":234,"v":-2.2},{"t":95,"w":237,"v":-1.4},{"t":95,"w":240,"v":-0.8},{"t":95,"w":245,"v":-0.3},{"t":95,"w":250,"v":-0.15}
],
"D": [
{"s":"235 nm","T":5,"v":-0.62},{"s":"235 nm","T":10,"v":-0.65},{"s":"235 nm","T":15,"v":-0.68},{"s":"235 nm","T":20,"v":-0.65},{"s":"235 nm","T":25,"v":-0.68},{"s":"235 nm","T":30,"v":-0.62},{"s":"235 nm","T":35,"v":-0.58},{"s":"235 nm","T":40,"v":-0.69},{"s":"235 nm","T":45,"v":-0.84},{"s":"235 nm","T":50,"v":-1.17},{"s":"235 nm","T":55,"v":-2.04},{"s":"235 nm","T":60,"v":-2.54},{"s":"235 nm","T":70,"v":-2.61},{"s":"235 nm","T":75,"v":-2.51},{"s":"235 nm","T":80,"v":-2.58},{"s":"235 nm","T":85,"v":-2.47},{"s":"235 nm","T":90,"v":-2.44},{"s":"235 nm","T":95,"v":-2.25},
{"s":"217 nm","T":5,"v":-8.97},{"s":"217 nm","T":10,"v":-8.82},{"s":"217 nm","T":15,"v":-8.75},{"s":"217 nm","T":20,"v":-8.75},{"s":"217 nm","T":25,"v":-8.63},{"s":"217 nm","T":30,"v":-8.52},{"s":"217 nm","T":35,"v":-8.38},{"s":"217 nm","T":40,"v":-8.23},{"s":"217 nm","T":45,"v":-8.35},{"s":"217 nm","T":50,"v":-8.52},{"s":"217 nm","T":55,"v":-8.45},{"s":"217 nm","T":60,"v":-8.45},{"s":"217 nm","T":70,"v":-8.26},{"s":"217 nm","T":75,"v":-7.71},{"s":"217 nm","T":80,"v":-7.56},{"s":"217 nm","T":85,"v":-7.09},{"s":"217 nm","T":90,"v":-6.72},{"s":"217 nm","T":95,"v":-6.26},
{"s":"208 nm","T":5,"v":-5.35},{"s":"208 nm","T":10,"v":-4.93},{"s":"208 nm","T":15,"v":-5.11},{"s":"208 nm","T":20,"v":-5.27},{"s":"208 nm","T":25,"v":-4.93},{"s":"208 nm","T":30,"v":-4.85},{"s":"208 nm","T":35,"v":-4.98},{"s":"208 nm","T":40,"v":-4.73},{"s":"208 nm","T":45,"v":-5.14},{"s":"208 nm","T":50,"v":-6.26},{"s":"208 nm","T":55,"v":-7.8},{"s":"208 nm","T":60,"v":-8.27},{"s":"208 nm","T":70,"v":-8.0},{"s":"208 nm","T":75,"v":-7.68},{"s":"208 nm","T":80,"v":-8.08},{"s":"208 nm","T":85,"v":-7.53},{"s":"208 nm","T":90,"v":-7.64},{"s":"208 nm","T":95,"v":-7.39}
],
"Dfit": [
{"s":"235 nm","T":5,"v":-0.68},{"s":"235 nm","T":40,"v":-0.7},{"s":"235 nm","T":44,"v":-0.77},{"s":"235 nm","T":46,"v":-0.86},{"s":"235 nm","T":48,"v":-1.02},{"s":"235 nm","T":50,"v":-1.3},{"s":"235 nm","T":52,"v":-1.7},{"s":"235 nm","T":54,"v":-2.08},{"s":"235 nm","T":56,"v":-2.33},{"s":"235 nm","T":58,"v":-2.46},{"s":"235 nm","T":60,"v":-2.52},{"s":"235 nm","T":65,"v":-2.54},{"s":"235 nm","T":95,"v":-2.54},
{"s":"208 nm","T":5,"v":-5.0},{"s":"208 nm","T":44,"v":-5.02},{"s":"208 nm","T":46,"v":-5.1},{"s":"208 nm","T":47,"v":-5.25},{"s":"208 nm","T":48,"v":-5.5},{"s":"208 nm","T":49,"v":-5.9},{"s":"208 nm","T":50,"v":-6.35},{"s":"208 nm","T":51,"v":-6.85},{"s":"208 nm","T":52,"v":-7.3},{"s":"208 nm","T":53,"v":-7.6},{"s":"208 nm","T":54,"v":-7.75},{"s":"208 nm","T":56,"v":-7.82},{"s":"208 nm","T":95,"v":-7.83},
{"s":"217 nm","T":5,"v":-8.9},{"s":"217 nm","T":20,"v":-8.72},{"s":"217 nm","T":35,"v":-8.5},{"s":"217 nm","T":45,"v":-8.43},{"s":"217 nm","T":55,"v":-8.43},{"s":"217 nm","T":62,"v":-8.38},{"s":"217 nm","T":66,"v":-8.28},{"s":"217 nm","T":70,"v":-8.1},{"s":"217 nm","T":75,"v":-7.83},{"s":"217 nm","T":80,"v":-7.56},{"s":"217 nm","T":85,"v":-7.29},{"s":"217 nm","T":90,"v":-7.02},{"s":"217 nm","T":95,"v":-6.75}
],
"annA": [
{"label":"DPPC / EqTxII = 100:1","lx":204.73,"ly":2.53},
{"label":"50 °C","lx":213.3,"ly":-1.1,"ax":211.28,"ay":-1.85,"hx":204.62,"hy":-3.75},
{"label":"95 °C","lx":218.67,"ly":-2.85,"ax":219.93,"ay":-3.5,"hx":217.4,"hy":-6.02},
{"label":"50 °C","lx":239.2,"ly":-5.02,"ax":239.0,"ay":-4.11,"hx":234.86,"hy":-2.21},
{"label":"5 - 45 °C","lx":230.34,"ly":-9.09,"ax":230.2,"ay":-8.94,"hx":220.83,"hy":-9.11},
{"label":"A","lx":246.6,"ly":-8.7}
],
"annB": [
{"label":"DPPC / EqTxII =50:1","lx":205.37,"ly":2.48},
{"label":"50 °C","lx":209.8,"ly":-0.72,"ax":209.62,"ay":-0.76,"hx":203.82,"hy":-2.67},
{"label":"5 - 45 °C","lx":218.52,"ly":-2.18,"ax":221.06,"ay":-2.52,"hx":231.41,"hy":-2.37},
{"label":"50 °C","lx":240.31,"ly":-4.24,"ax":239.4,"ay":-3.67,"hx":235.05,"hy":-1.78},
{"label":"95 °C","lx":215.88,"ly":-5.42},
{"label":"85 °C","lx":230.4,"ly":-8.28,"ax":229.42,"ay":-7.95,"hx":218.52,"hy":-7.33},
{"label":"60 °C","lx":203.52,"ly":-9.53,"ax":206.0,"ay":-9.1,"hx":207.63,"hy":-8.76},
{"label":"B","lx":246.66,"ly":-8.65}
],
"annC": [
{"label":"DPPC / EqTxII = 20:1","lx":205.16,"ly":2.24},
{"label":"5 - 45 °C","lx":218.14,"ly":-1.5,"ax":221.41,"ay":-1.96,"hx":230.86,"hy":-2.04},
{"label":"50 °C","lx":242.78,"ly":-2.96,"ax":242.13,"ay":-2.62,"hx":234.13,"hy":-1.44},
{"label":"95 °C","lx":215.13,"ly":-5.46},
{"label":"85 °C","lx":230.43,"ly":-6.87,"ax":229.77,"ay":-7.27,"hx":217.23,"hy":-7.13},
{"label":"75 °C","lx":229.85,"ly":-8.2,"ax":229.04,"ay":-8.08,"hx":216.33,"hy":-7.79},
{"label":"60 °C","lx":204.04,"ly":-9.37,"ax":206.5,"ay":-8.88,"hx":208.5,"hy":-8.6},
{"label":"C","lx":246.5,"ly":-9.0}
],
"annD": [
{"label":"DPPC / EqTxII = 20:1","lx":-3.9,"ly":2.52},
{"label":"D","lx":101.8,"ly":-8.92}
]
},
"spacing": 31,
"vconcat": [
{"bounds": "flush", "spacing": 87.5, "hconcat": [
 {"width": 435, "height": 321,
  "layer": [
   {"data": {"name": "A"}, "mark": {"type": "line", "interpolate": "monotone", "color": "black", "strokeWidth": 0.85, "clip": true},
    "encoding": {
     "x": {"field": "w", "type": "quantitative", "scale": {"domain": [203, 250], "nice": false, "zero": false}, "axis": {"orient": "bottom", "title": "Wavelength (nm)", "values": [205,210,215,220,225,230,235,240,245,250], "labelExpr": "datum.value % 10 === 0 ? '' + datum.value : ''"}},
     "y": {"field": "v", "type": "quantitative", "scale": {"domain": [-10, 4], "nice": false, "zero": false}, "axis": {"orient": "left", "title": "[Θ] x 10 ⁻³  (deg cm ² dmol ⁻¹ )", "values": [-10,-7.5,-5,-2.5,0,2.5], "labelExpr": "datum.value % 5 === 0 ? '' + datum.value : ''"}},
     "detail": {"field": "t", "type": "nominal"}}},
   {"data": {"values": [{"w": 203, "v": 0}]}, "mark": {"type": "point", "opacity": 0},
    "encoding": {
     "x": {"field": "w", "type": "quantitative", "scale": {"domain": [203, 250], "nice": false, "zero": false}, "axis": {"orient": "top", "labels": false, "title": null, "values": [205,210,215,220,225,230,235,240,245]}},
     "y": {"field": "v", "type": "quantitative", "scale": {"domain": [-10, 4], "nice": false, "zero": false}, "axis": {"orient": "right", "labels": false, "title": null, "values": [-7.5,-5,-2.5,0,2.5]}}}},
   {"data": {"name": "annA"}, "mark": {"type": "text", "align": "left", "baseline": "middle", "fontSize": 18.5},
    "encoding": {
     "x": {"field": "lx", "type": "quantitative", "scale": {"domain": [203, 250], "nice": false, "zero": false}, "axis": null},
     "y": {"field": "ly", "type": "quantitative", "scale": {"domain": [-10, 4], "nice": false, "zero": false}, "axis": null},
     "text": {"field": "label"}}},
   {"data": {"name": "annA"}, "transform": [{"filter": "isValid(datum.ax)"}], "mark": {"type": "rule", "color": "black", "strokeWidth": 1},
    "encoding": {
     "x": {"field": "ax", "type": "quantitative", "scale": {"domain": [203, 250], "nice": false, "zero": false}, "axis": null},
     "y": {"field": "ay", "type": "quantitative", "scale": {"domain": [-10, 4], "nice": false, "zero": false}, "axis": null},
     "x2": {"field": "hx"}, "y2": {"field": "hy"}}},
   {"data": {"name": "annA"}, "transform": [{"filter": "isValid(datum.ax)"}, {"calculate": "atan2((datum.hx-datum.ax)*9.2,(datum.hy-datum.ay)*22.7)*180/PI", "as": "ang"}],
    "mark": {"type": "point", "shape": "M0,0L0.4,1.7L-0.4,1.7Z", "filled": true, "color": "black", "size": 90, "opacity": 1},
    "encoding": {
     "x": {"field": "hx", "type": "quantitative", "scale": {"domain": [203, 250], "nice": false, "zero": false}, "axis": null},
     "y": {"field": "hy", "type": "quantitative", "scale": {"domain": [-10, 4], "nice": false, "zero": false}, "axis": null},
     "angle": {"field": "ang", "type": "quantitative", "scale": null}}}
  ],
  "resolve": {"axis": {"x": "independent", "y": "independent"}}},
 {"width": 431, "height": 321,
  "layer": [
   {"data": {"name": "B"}, "mark": {"type": "line", "interpolate": "monotone", "color": "black", "strokeWidth": 0.85, "clip": true},
    "encoding": {
     "x": {"field": "w", "type": "quantitative", "scale": {"domain": [203, 250], "nice": false, "zero": false}, "axis": {"orient": "bottom", "title": "Wavelength (nm)", "values": [205,210,215,220,225,230,235,240,245,250], "labelExpr": "datum.value % 10 === 0 ? '' + datum.value : ''"}},
     "y": {"field": "v", "type": "quantitative", "scale": {"domain": [-10, 4], "nice": false, "zero": false}, "axis": {"orient": "left", "title": "[Θ] x 10 ⁻³  (deg cm ² dmol ⁻¹ )", "values": [-10,-7.5,-5,-2.5,0,2.5], "labelExpr": "datum.value % 5 === 0 ? '' + datum.value : ''"}},
     "detail": {"field": "t", "type": "nominal"}}},
   {"data": {"values": [{"w": 203, "v": 0}]}, "mark": {"type": "point", "opacity": 0},
    "encoding": {
     "x": {"field": "w", "type": "quantitative", "scale": {"domain": [203, 250], "nice": false, "zero": false}, "axis": {"orient": "top", "labels": false, "title": null, "values": [205,210,215,220,225,230,235,240,245]}},
     "y": {"field": "v", "type": "quantitative", "scale": {"domain": [-10, 4], "nice": false, "zero": false}, "axis": {"orient": "right", "labels": false, "title": null, "values": [-7.5,-5,-2.5,0,2.5]}}}},
   {"data": {"name": "annB"}, "mark": {"type": "text", "align": "left", "baseline": "middle", "fontSize": 18.5},
    "encoding": {
     "x": {"field": "lx", "type": "quantitative", "scale": {"domain": [203, 250], "nice": false, "zero": false}, "axis": null},
     "y": {"field": "ly", "type": "quantitative", "scale": {"domain": [-10, 4], "nice": false, "zero": false}, "axis": null},
     "text": {"field": "label"}}},
   {"data": {"name": "annB"}, "transform": [{"filter": "isValid(datum.ax)"}], "mark": {"type": "rule", "color": "black", "strokeWidth": 1},
    "encoding": {
     "x": {"field": "ax", "type": "quantitative", "scale": {"domain": [203, 250], "nice": false, "zero": false}, "axis": null},
     "y": {"field": "ay", "type": "quantitative", "scale": {"domain": [-10, 4], "nice": false, "zero": false}, "axis": null},
     "x2": {"field": "hx"}, "y2": {"field": "hy"}}},
   {"data": {"name": "annB"}, "transform": [{"filter": "isValid(datum.ax)"}, {"calculate": "atan2((datum.hx-datum.ax)*9.2,(datum.hy-datum.ay)*22.7)*180/PI", "as": "ang"}],
    "mark": {"type": "point", "shape": "M0,0L0.4,1.7L-0.4,1.7Z", "filled": true, "color": "black", "size": 90, "opacity": 1},
    "encoding": {
     "x": {"field": "hx", "type": "quantitative", "scale": {"domain": [203, 250], "nice": false, "zero": false}, "axis": null},
     "y": {"field": "hy", "type": "quantitative", "scale": {"domain": [-10, 4], "nice": false, "zero": false}, "axis": null},
     "angle": {"field": "ang", "type": "quantitative", "scale": null}}}
  ],
  "resolve": {"axis": {"x": "independent", "y": "independent"}}}
]},
{"bounds": "flush", "spacing": 88.5, "hconcat": [
 {"width": 434, "height": 315,
  "layer": [
   {"data": {"name": "C"}, "mark": {"type": "line", "interpolate": "monotone", "color": "black", "strokeWidth": 0.85, "clip": true},
    "encoding": {
     "x": {"field": "w", "type": "quantitative", "scale": {"domain": [203, 250], "nice": false, "zero": false}, "axis": {"orient": "bottom", "title": "Wavelength (nm)", "titlePadding": 10, "labelPadding": 5, "values": [205,210,215,220,225,230,235,240,245,250], "labelExpr": "datum.value % 10 === 0 ? '' + datum.value : ''"}},
     "y": {"field": "v", "type": "quantitative", "scale": {"domain": [-10, 4], "nice": false, "zero": false}, "axis": {"orient": "left", "title": "[Θ] x 10 ⁻³  (deg cm ² dmol ⁻¹ )", "values": [-10,-7.5,-5,-2.5,0,2.5], "labelExpr": "datum.value % 5 === 0 ? '' + datum.value : ''"}},
     "detail": {"field": "t", "type": "nominal"}}},
   {"data": {"values": [{"w": 203, "v": 0}]}, "mark": {"type": "point", "opacity": 0},
    "encoding": {
     "x": {"field": "w", "type": "quantitative", "scale": {"domain": [203, 250], "nice": false, "zero": false}, "axis": {"orient": "top", "labels": false, "title": null, "values": [205,210,215,220,225,230,235,240,245]}},
     "y": {"field": "v", "type": "quantitative", "scale": {"domain": [-10, 4], "nice": false, "zero": false}, "axis": {"orient": "right", "labels": false, "title": null, "values": [-7.5,-5,-2.5,0,2.5]}}}},
   {"data": {"name": "annC"}, "mark": {"type": "text", "align": "left", "baseline": "middle", "fontSize": 18.5},
    "encoding": {
     "x": {"field": "lx", "type": "quantitative", "scale": {"domain": [203, 250], "nice": false, "zero": false}, "axis": null},
     "y": {"field": "ly", "type": "quantitative", "scale": {"domain": [-10, 4], "nice": false, "zero": false}, "axis": null},
     "text": {"field": "label"}}},
   {"data": {"name": "annC"}, "transform": [{"filter": "isValid(datum.ax)"}], "mark": {"type": "rule", "color": "black", "strokeWidth": 1},
    "encoding": {
     "x": {"field": "ax", "type": "quantitative", "scale": {"domain": [203, 250], "nice": false, "zero": false}, "axis": null},
     "y": {"field": "ay", "type": "quantitative", "scale": {"domain": [-10, 4], "nice": false, "zero": false}, "axis": null},
     "x2": {"field": "hx"}, "y2": {"field": "hy"}}},
   {"data": {"name": "annC"}, "transform": [{"filter": "isValid(datum.ax)"}, {"calculate": "atan2((datum.hx-datum.ax)*9.2,(datum.hy-datum.ay)*22.5)*180/PI", "as": "ang"}],
    "mark": {"type": "point", "shape": "M0,0L0.4,1.7L-0.4,1.7Z", "filled": true, "color": "black", "size": 90, "opacity": 1},
    "encoding": {
     "x": {"field": "hx", "type": "quantitative", "scale": {"domain": [203, 250], "nice": false, "zero": false}, "axis": null},
     "y": {"field": "hy", "type": "quantitative", "scale": {"domain": [-10, 4], "nice": false, "zero": false}, "axis": null},
     "angle": {"field": "ang", "type": "quantitative", "scale": null}}}
  ],
  "resolve": {"axis": {"x": "independent", "y": "independent"}}},
 {"width": 430, "height": 315,
  "layer": [
   {"data": {"name": "Dfit"}, "mark": {"type": "line", "interpolate": "monotone", "color": "black", "strokeWidth": 1, "clip": true},
    "encoding": {
     "x": {"field": "T", "type": "quantitative", "scale": {"domain": [-10, 110], "nice": false, "zero": false}, "axis": {"orient": "bottom", "title": "T(ᵒC)", "labelPadding": 5, "values": [0,10,20,30,40,50,60,70,80,90,100], "labelExpr": "datum.value % 20 === 0 ? '' + datum.value : ''"}},
     "y": {"field": "v", "type": "quantitative", "scale": {"domain": [-10, 4], "nice": false, "zero": false}, "axis": {"orient": "left", "title": "[Θ] x 10 ⁻³  (deg cm ² dmol ⁻¹ )", "values": [-10,-7.5,-5,-2.5,0,2.5], "labelExpr": "datum.value % 5 === 0 ? '' + datum.value : ''"}},
     "detail": {"field": "s", "type": "nominal"}}},
   {"data": {"name": "D"}, "mark": {"type": "point", "filled": true, "color": "black", "size": 42, "opacity": 1},
    "encoding": {
     "x": {"field": "T", "type": "quantitative", "scale": {"domain": [-10, 110], "nice": false, "zero": false}, "axis": null},
     "y": {"field": "v", "type": "quantitative", "scale": {"domain": [-10, 4], "nice": false, "zero": false}, "axis": null},
     "shape": {"field": "s", "type": "nominal", "scale": {"domain": ["235 nm", "217 nm", "208 nm"], "range": ["circle", "triangle-up", "square"]},
       "legend": {"title": null, "orient": "none", "legendX": 793, "legendY": 422, "padding": 0, "labelFont": "Liberation Sans", "labelFontSize": 11.5, "labelColor": "black", "symbolSize": 24, "symbolFillColor": "black", "symbolStrokeColor": "black", "symbolStrokeWidth": 0, "rowPadding": 1.5, "labelOffset": 13}}}},
   {"data": {"values": [{"T": 0, "v": 0}]}, "mark": {"type": "point", "opacity": 0},
    "encoding": {
     "x": {"field": "T", "type": "quantitative", "scale": {"domain": [-10, 110], "nice": false, "zero": false}, "axis": {"orient": "top", "labels": false, "title": null, "values": [0,10,20,30,40,50,60,70,80,90,100]}},
     "y": {"field": "v", "type": "quantitative", "scale": {"domain": [-10, 4], "nice": false, "zero": false}, "axis": {"orient": "right", "labels": false, "title": null, "values": [-7.5,-5,-2.5,0,2.5]}}}},
   {"data": {"name": "annD"}, "mark": {"type": "text", "align": "left", "baseline": "middle", "fontSize": 18.5},
    "encoding": {
     "x": {"field": "lx", "type": "quantitative", "scale": {"domain": [-10, 110], "nice": false, "zero": false}, "axis": null},
     "y": {"field": "ly", "type": "quantitative", "scale": {"domain": [-10, 4], "nice": false, "zero": false}, "axis": null},
     "text": {"field": "label"}}}
  ],
  "resolve": {"axis": {"x": "independent", "y": "independent"}}}
]}
]
}
